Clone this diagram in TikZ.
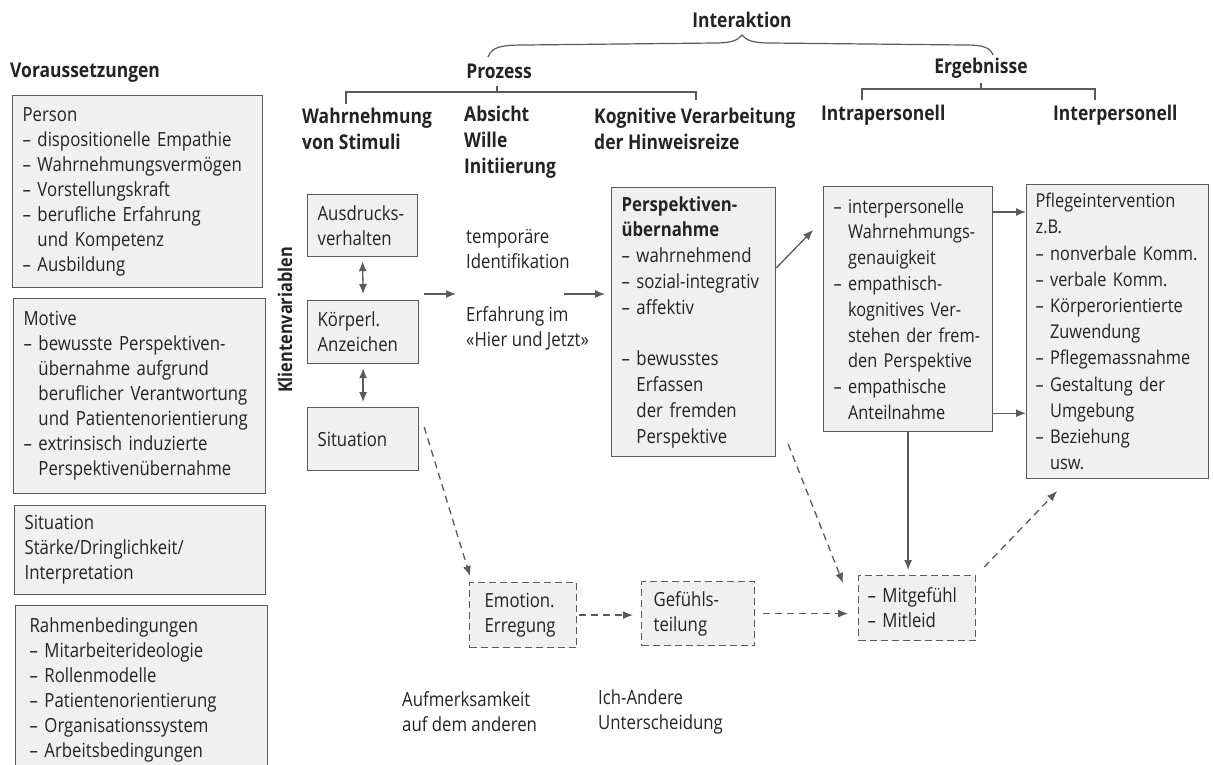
\documentclass[tikz,border=0pt]{standalone}
\usepackage{fontspec}
\setmainfont{Open Sans}[FakeStretch=0.86]
\usetikzlibrary{arrows.meta}
\definecolor{boxfill}{RGB}{240, 240, 240}
\definecolor{rule}{RGB}{90, 90, 90}
\definecolor{ink}{RGB}{35, 35, 35}
% indent of a continued item
\newcommand{\ind}{\phantom{– }}

\tikzset{
    txt/.style={inner sep=0pt, align=left, text=ink, font=\fontsize{19.5}{25}\selectfont},
    head/.style={txt, font=\fontsize{20.3}{26}\selectfont\bfseries},
    box/.style={txt, anchor=north west, draw=rule, fill=boxfill, line width=1.2pt, inner xsep=10pt},
    dbox/.style={box, dash pattern=on 7pt off 4pt},
    arr/.style={-{Latex[length=10pt,width=8pt]}, draw=rule, line width=1.3pt},
    both/.style={arr, {Latex[length=10pt,width=8pt]}-{Latex[length=10pt,width=8pt]}},
    darr/.style={arr, dash pattern=on 7pt off 5pt},
}

\begin{document}
\begin{tikzpicture}[x=1pt, y=-1pt]
            \fill[white] (0,0) rectangle (1213,764);
            \useasboundingbox (0,0) rectangle (1213,764);
            % Headings
            \node[head]              (interaktion) at (742, 20) {Interaktion};
            \node[head]              (prozess)     at (499, 71) {Prozess};
            \node[head]              (ergebnisse)  at (981, 68) {Ergebnisse};
            \node[head, anchor=west] (voraus)      at ( 10, 73) {Voraussetzungen};
            \node[head, anchor=west] (hwahr)       at (302,129) {Wahrnehmung\\von Stimuli};
            \node[head, anchor=west] (habsicht)    at (464,142) {Absicht\\Wille\\Initiierung};
            \node[head, anchor=west] (hkogn)       at (594,129) {Kognitive Verarbeitung\\der Hinweisreize};
            \node[head, anchor=west] (hintra)      at (821,115) {Intrapersonell};
            \node[head, anchor=west] (hinter)      at (1053,115) {Interpersonell};
            \node[head, rotate=90, font=\fontsize{19}{26}\selectfont\bfseries] (klient) at (285,320) {Klientenvariablen};
            % Brace & brackets
            \draw[rule, line width=1.2pt] (488,57) .. controls (492,47) and (500,45) .. (525,45)
                 -- (715,43) .. controls (732,43) and (738,40) .. (742,35)
                 .. controls (746,40) and (752,43) .. (770,43)
                 -- (965,45) .. controls (985,45) and (990,48) .. (993,55);
            \draw[rule, line width=1.2pt] (346,104) -- (346,92) -- (696,92) -- (696,100);
            \draw[rule, line width=1.2pt] (497,92) -- (497,86);
            \draw[rule, line width=1.2pt] (862,100) -- (862,89) -- (1095,89) -- (1095,100);
            \draw[rule, line width=1.2pt] (981,89) -- (981,83);
            % Voraussetzungen
            \node[box, text width=230pt, minimum height=192pt] (person) at (12,95)
                 {Person\\– dispositionelle Empathie\\– Wahrnehmungsvermögen\\– Vorstellungskraft\\
                  – berufliche Erfahrung\\\ind und Kompetenz\\– Ausbildung};
            \node[box, text width=232pt, minimum height=195pt] (motive) at (13,298)
                 {Motive\\– bewusste Perspektiven-\\\ind übernahme aufgrund\\\ind beruflicher Verantwortung\\
                  \ind und Patientenorientierung\\– extrinsisch induzierte\\\ind Perspektivenübernahme};
            \node[box, text width=231pt, minimum height=89pt] (lage) at (14,505)
                 {Situation\\Stärke/Dringlichkeit/\\Interpretation};
            \node[box, text width=224pt, inner xsep=14pt, minimum height=168pt] (rahmen) at (15,605)
                 {Rahmenbedingungen\\– Mitarbeiterideologie\\– Rollenmodelle\\– Patientenorientierung\\
                  – Organisationssystem\\– Arbeitsbedingungen};
            % Klientenvariablen
            \node[box, text width=90pt, minimum height=62pt] (ausdruck) at (307,194) {Ausdrucks-\\verhalten};
            \node[box, text width=91pt, minimum height=63pt] (koerper)  at (307,300) {Körperl.\\Anzeichen};
            \node[box, text width=91pt, minimum height=63pt] (reiz)     at (307,407) {Situation};
            \draw[both] ([yshift=-4pt]ausdruck.south) -- ([yshift=6pt]koerper.north);
            \draw[both] ([yshift=-4pt]koerper.south)  -- ([yshift=5pt]reiz.north);
            % Prozess
            \node[txt, anchor=west] (absicht) at (466,290)
                 {temporäre\\Identifikation\\[28pt]Erfahrung im\\«Hier und Jetzt»};
            \coordinate (pfeil) at (0,294);
            \node[box, text width=144pt, font=\fontsize{19.5}{25.8}\selectfont, minimum height=269pt] (perspektive) at (611,187)
                 {\textbf{Perspektiven-}\\\textbf{übernahme}\\– wahrnehmend\\–~sozial-integrativ\\– affektiv\\[25.8pt]
                  – bewusstes\\\ind Erfassen\\\ind der fremden\\\ind Perspektive};
            \draw[arr] ([xshift=5pt]koerper.east |- pfeil) -- ([xshift=-10pt]absicht.west |- pfeil);
            \draw[arr] ([xshift=-25pt]absicht.east |- pfeil) -- ([xshift=-6pt]perspektive.west |- pfeil);
            % Ergebnisse
            \node[box, text width=149pt, font=\fontsize{19}{25.8}\selectfont, minimum height=245pt] (intra) at (823,186)
                 {– interpersonelle\\\ind Wahrnehmungs-\\\ind genauigkeit\\– empathisch-\\\ind kognitives~Ver-\\
                  \ind stehen~der~frem-\\\ind den~Perspektive\\– empathische\\\ind Anteilnahme};
            \node[box, text width=164pt, inner xsep=9pt, font=\fontsize{19}{26.2}\selectfont, minimum height=294pt] (pflege) at (1026,184)
                 {Pflegeintervention\\z.B.\\–~nonverbale~Komm.\\– verbale Komm.\\–~Körperorientierte\\\ind Zuwendung\\
                  – Pflegemassnahme\\– Gestaltung der\\\ind Umgebung\\– Beziehung\\\ind usw.};
            \draw[arr] ([yshift=-81pt]perspektive.north east) -- ([shift={(-10pt,-44pt)}]intra.north west);
            \draw[arr] ([yshift=-26pt]intra.north east) -- ([yshift=-26pt]intra.north east -| pflege.west);
            \draw[arr] ([yshift=19pt]intra.south east)  -- ([yshift=19pt]intra.south east -| pflege.west);
            % Affektive Seite
            \node[dbox, text width=77pt, inner xsep=15pt, minimum height=65pt] (emotion)    at (469,582) {Emotion.\\Erregung};
            \node[dbox, text width=89pt, inner xsep=12pt, minimum height=64pt] (gefuehl)    at (641,581) {Gefühls-\\teilung};
            \node[dbox, text width=99pt, inner xsep=9pt,  minimum height=65pt] (mitgefuehl) at (858,575) {– Mitgefühl\\– Mitleid};
            \node[txt, anchor=west] (aufmerk)   at (402,712) {Aufmerksamkeit\\auf dem anderen};
            \node[txt, anchor=west] (ichandere) at (598,712) {Ich-Andere\\Unterscheidung};
            \draw[arr]  (intra.south) -- ([yshift=5pt]intra.south |- mitgefuehl.north);
            \draw[darr] ([shift={(5pt,-20pt)}]reiz.north east) -- ([shift={(1pt,6pt)}]emotion.north west);
            \draw[darr] ([xshift=2pt]emotion.east) -- ([xshift=-8pt]emotion.east -| gefuehl.west);
            \draw[darr] ([xshift=8pt]gefuehl.east) -- ([xshift=-10pt]gefuehl.east -| mitgefuehl.west);
            \draw[darr] ([shift={(12pt,13pt)}]perspektive.south east) -- ([shift={(-15pt,-8pt)}]mitgefuehl.north west);
            \draw[darr] ([shift={(8pt,8pt)}]mitgefuehl.north east) -- ([shift={(31pt,-12pt)}]pflege.south west);
        \end{tikzpicture}
\end{document}
